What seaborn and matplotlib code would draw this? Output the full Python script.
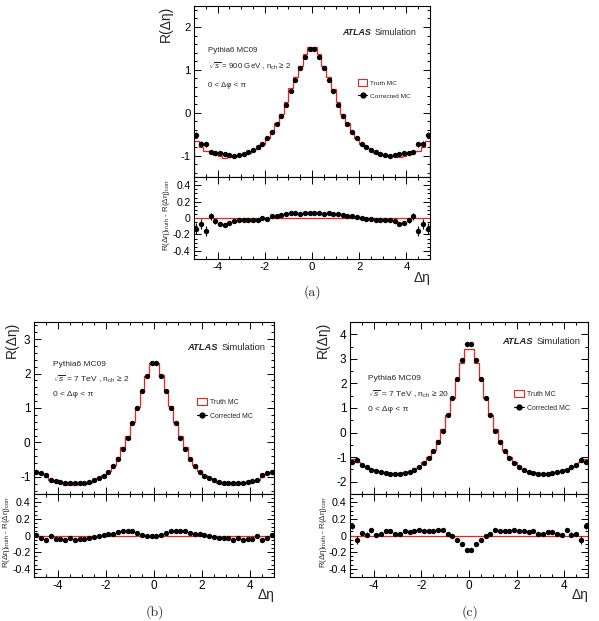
import numpy as np
import matplotlib
matplotlib.use("Agg")
import matplotlib.pyplot as plt
import seaborn as sns
from matplotlib.patches import Patch
from matplotlib.lines import Line2D
from matplotlib.ticker import MultipleLocator, FuncFormatter

# ---- bins in delta-eta (50 bins of width 0.2) ----
eta_edges = np.round(np.linspace(-5.0, 5.0, 51), 2)
eta_centers = np.round(0.5 * (eta_edges[:-1] + eta_edges[1:]), 2)

# ---- panel (a): 900 GeV, nch >= 2 ----
a_corr = [-0.53, -0.73, -0.74, -0.92, -0.94, -0.95, -0.96, -0.98, -1.00, -0.99,
          -0.96, -0.92, -0.87, -0.81, -0.73, -0.59, -0.44, -0.26, -0.07, 0.19,
          0.51, 0.77, 1.05, 1.30, 1.48,
          1.48, 1.30, 1.05, 0.77, 0.51, 0.19, -0.07, -0.26, -0.44, -0.59,
          -0.73, -0.81, -0.87, -0.92, -0.96, -0.99, -1.00, -0.98, -0.96, -0.95,
          -0.94, -0.92, -0.74, -0.73, -0.53]
a_diff = [-0.13, -0.07, -0.16, 0.02, -0.04, -0.07, -0.09, -0.06, -0.04, -0.02,
          -0.02, -0.03, -0.03, -0.03, 0.00, -0.01, 0.02, 0.02, 0.04, 0.05,
          0.06, 0.06, 0.05, 0.06, 0.06,
          0.06, 0.06, 0.05, 0.06, 0.05, 0.05, 0.04, 0.03, 0.02, 0.01,
          0.00, -0.01, -0.01, -0.02, -0.03, -0.03, -0.02, -0.04, -0.07, -0.06,
          -0.03, 0.02, -0.16, -0.07, -0.13]
a_err = [0.07, 0.06, 0.06, 0.04, 0.03, 0.025, 0.02, 0.02, 0.02, 0.015,
         0.015, 0.015, 0.015, 0.012, 0.012, 0.012, 0.012, 0.012, 0.01, 0.01,
         0.01, 0.01, 0.01, 0.01, 0.01,
         0.01, 0.01, 0.01, 0.01, 0.01, 0.01, 0.01, 0.012, 0.012, 0.012,
         0.012, 0.012, 0.015, 0.015, 0.015, 0.015, 0.02, 0.02, 0.02, 0.025,
         0.03, 0.04, 0.06, 0.06, 0.07]

# ---- panel (b): 7 TeV, nch >= 2 ----
b_corr = [-0.86, -0.90, -0.96, -1.08, -1.11, -1.15, -1.17, -1.19, -1.19, -1.18,
          -1.18, -1.15, -1.10, -1.03, -0.97, -0.85, -0.69, -0.47, -0.18, 0.14,
          0.55, 1.00, 1.49, 1.94, 2.31,
          2.31, 1.94, 1.49, 1.00, 0.55, 0.14, -0.18, -0.47, -0.69, -0.85,
          -0.97, -1.03, -1.10, -1.15, -1.18, -1.18, -1.19, -1.19, -1.17, -1.15,
          -1.11, -1.08, -0.96, -0.90, -0.86]
b_diff = [0.01, -0.03, -0.06, 0.00, -0.04, -0.04, -0.06, -0.03, -0.06, -0.04,
          -0.04, -0.03, -0.02, 0.00, 0.01, 0.02, 0.02, 0.04, 0.05, 0.05,
          0.05, 0.03, 0.01, 0.00, 0.00,
          0.00, 0.01, 0.03, 0.05, 0.05, 0.05, 0.05, 0.03, 0.02, 0.02,
          0.01, -0.01, -0.02, -0.03, -0.03, -0.03, -0.06, -0.03, -0.05, -0.04,
          -0.04, 0.00, -0.06, -0.03, 0.01]
b_err = [0.015, 0.012, 0.012, 0.01, 0.01, 0.008, 0.008, 0.008, 0.008, 0.008,
         0.008, 0.008, 0.008, 0.008, 0.008, 0.008, 0.008, 0.008, 0.008, 0.008,
         0.008, 0.008, 0.008, 0.008, 0.008,
         0.008, 0.008, 0.008, 0.008, 0.008, 0.008, 0.008, 0.008, 0.008, 0.008,
         0.008, 0.008, 0.008, 0.008, 0.008, 0.008, 0.008, 0.008, 0.008, 0.008,
         0.01, 0.01, 0.012, 0.012, 0.015]

# ---- panel (c): 7 TeV, nch >= 20 ----
c_corr = [-1.18, -1.13, -1.34, -1.42, -1.54, -1.57, -1.62, -1.66, -1.68, -1.68,
          -1.68, -1.65, -1.60, -1.52, -1.42, -1.25, -1.05, -0.75, -0.38, 0.08,
          0.70, 1.40, 2.19, 2.94, 3.60,
          3.60, 2.94, 2.19, 1.40, 0.70, 0.08, -0.38, -0.75, -1.05, -1.25,
          -1.42, -1.52, -1.60, -1.65, -1.68, -1.68, -1.68, -1.66, -1.62, -1.57,
          -1.54, -1.42, -1.34, -1.13, -1.18]
c_diff = [0.11, -0.05, 0.03, 0.01, 0.07, 0.01, 0.02, 0.05, 0.05, 0.02,
          0.02, 0.06, 0.04, 0.06, 0.07, 0.06, 0.06, 0.06, 0.07, 0.07,
          0.02, 0.00, -0.06, -0.10, -0.18,
          -0.18, -0.10, -0.06, 0.00, 0.02, 0.07, 0.06, 0.06, 0.06, 0.07,
          0.06, 0.05, 0.04, 0.06, 0.02, 0.02, 0.04, 0.04, 0.02, 0.01,
          0.07, 0.01, 0.02, -0.05, 0.11]
c_err = [0.03, 0.05, 0.025, 0.03, 0.015, 0.012, 0.012, 0.01, 0.01, 0.01,
         0.01, 0.01, 0.01, 0.01, 0.01, 0.01, 0.01, 0.01, 0.01, 0.01,
         0.01, 0.01, 0.01, 0.01, 0.01,
         0.01, 0.01, 0.01, 0.01, 0.01, 0.01, 0.01, 0.01, 0.01, 0.01,
         0.01, 0.01, 0.01, 0.01, 0.01, 0.01, 0.01, 0.01, 0.01, 0.01,
         0.015, 0.03, 0.025, 0.05, 0.03]

sns.set_theme(style="ticks")
plt.rcParams.update({
    "font.family": ["Liberation Sans", "DejaVu Sans"],
    "mathtext.fontset": "custom",
    "mathtext.rm": "Liberation Sans",
    "mathtext.it": "Liberation Sans:italic",
    "mathtext.bf": "Liberation Sans:bold",
    "axes.unicode_minus": False,
    "axes.edgecolor": "black",
    "axes.linewidth": 0.8,
    "xtick.color": "black",
    "ytick.color": "black",
})

W, H = 599, 621
fig = plt.figure(figsize=(W / 100, H / 100), dpi=100)
RED = "#e8241c"


def fx(px):
    return px / W


def fy(py):
    return 1 - py / H


fmt = FuncFormatter(lambda v, p: f"{round(v, 2) + 0:g}")


def style_axis(a, ymaj, ymin, fs):
    a.set_xlim(-5, 5)
    a.xaxis.set_major_locator(MultipleLocator(2))
    a.xaxis.set_minor_locator(MultipleLocator(0.5))
    a.yaxis.set_major_locator(MultipleLocator(ymaj))
    a.yaxis.set_minor_locator(MultipleLocator(ymin))
    a.yaxis.set_major_formatter(fmt)
    a.xaxis.set_major_formatter(fmt)
    a.tick_params(which="both", direction="in", top=True, right=True,
                  width=0.7, labelsize=fs, pad=2.5)
    a.tick_params(which="major", length=5)
    a.tick_params(which="minor", length=2.5)
    a.set_xlabel("")
    a.set_ylabel("")


def panel(x0, x1, ytop, ysplit, ybot, corr, diff, err, ylim, ymaj, ymin,
          energy, nch, txt_x, txt_y, atlas_xy, leg_xy, ylab_main, ylab_ratio,
          xlab_y, fs=8.5, tfs=6.0):
    ax = fig.add_axes([fx(x0), fy(ysplit), (x1 - x0) / W, (ysplit - ytop) / H])
    rx = fig.add_axes([fx(x0), fy(ybot), (x1 - x0) / W, (ybot - ysplit) / H])
    corr = np.array(corr)
    diff = np.array(diff)
    truth = corr + diff

    ax.stairs(truth, eta_edges, baseline=ylim[0], color=RED, lw=0.9, zorder=2)
    ax.errorbar(eta_centers, corr, yerr=err, fmt="none", ecolor="black",
                elinewidth=0.8, zorder=3)
    sns.scatterplot(x=eta_centers, y=corr, ax=ax, color="black", s=15,
                    linewidth=0, zorder=4)
    ax.set_ylim(*ylim)
    style_axis(ax, ymaj, ymin, fs)
    ax.tick_params(labelbottom=False)

    rx.axhline(0, color=RED, lw=0.9, zorder=2)
    rx.errorbar(eta_centers, diff, yerr=err, fmt="none", ecolor="black",
                elinewidth=0.8, zorder=3)
    sns.scatterplot(x=eta_centers, y=diff, ax=rx, color="black", s=15,
                    linewidth=0, zorder=4)
    rx.set_ylim(-0.5, 0.5)
    style_axis(rx, 0.2, 0.05, fs * 0.9)
    rx.tick_params(axis="x", labelsize=fs)

    # texts
    ax.text(txt_x, txt_y[0], "Pythia6 MC09", transform=ax.transAxes,
            fontsize=tfs, va="center")
    ax.text(txt_x, txt_y[1],
            r"$\sqrt{s}$ = " + energy + r" , n$_{\rm ch}$ ≥ " + nch,
            transform=ax.transAxes, fontsize=tfs, va="center")
    ax.text(txt_x, txt_y[2], "0 < Δφ < π", transform=ax.transAxes,
            fontsize=tfs, va="center")
    t = ax.text(atlas_xy[0], atlas_xy[1], "ATLAS", transform=ax.transAxes,
                fontsize=tfs * 1.12, fontweight="bold", fontstyle="italic",
                va="center")
    ax.annotate("Simulation", xy=(1, 0), xycoords=t, xytext=(2.5, 0),
                textcoords="offset points", fontsize=tfs * 1.12, va="bottom")

    handles = [Patch(facecolor="white", edgecolor=RED, lw=0.8, label="Truth MC"),
               Line2D([], [], color="black", marker="o", ms=3.5, lw=0.8,
                      label="Corrected MC")]
    ax.legend(handles=handles, loc="center left", bbox_to_anchor=leg_xy,
              frameon=False, fontsize=tfs * 0.82, handlelength=1.4,
              handleheight=1.15, handletextpad=0.4, labelspacing=1.0,
              borderpad=0, borderaxespad=0)

    fig.text(fx(ylab_main[0]), fy(ylab_main[1]), "R(Δη)", rotation=90,
             ha="center", va="top", fontsize=10)
    fig.text(fx(ylab_ratio[0]), fy(ylab_ratio[1]),
             r"R(Δη)$_{\rm truth}$ - R(Δη)$_{\rm corr}$", rotation=90,
             ha="center", va="top", fontsize=5.8)
    rx.text(1.0, xlab_y, "Δη", transform=rx.transAxes, ha="right",
            va="center", fontsize=10)
    return ax, rx


panel(194, 430, 5.5, 177, 259, a_corr, a_diff, a_err, (-1.5, 2.5), 1, 0.2,
      "900 GeV", "2", 0.06, (0.74, 0.647, 0.536), (0.63, 0.845),
      (0.695, 0.513), (166, 6), (167, 179), -0.226, fs=8.2, tfs=5.7)
panel(34, 274, 322, 494, 577, b_corr, b_diff, b_err, (-1.5, 3.5), 1, 0.2,
      "7 TeV", "2", 0.08, (0.755, 0.67, 0.576), (0.64, 0.85),
      (0.68, 0.494), (12, 322), (7, 496), -0.217)
panel(350, 588, 322, 494, 577, c_corr, c_diff, c_err, (-2.5, 4.5), 1, 0.5,
      "7 TeV", "20", 0.076, (0.674, 0.58, 0.49), (0.64, 0.884),
      (0.69, 0.54), (323, 322), (324, 496), -0.217)

for lab, px, py in (("(a)", 312, 292), ("(b)", 155, 612), ("(c)", 470, 612)):
    fig.text(fx(px), fy(py), lab, ha="center", va="center", fontsize=10,
             family=["cmr10", "DejaVu Serif"])

fig.savefig("out.png", dpi=100)
